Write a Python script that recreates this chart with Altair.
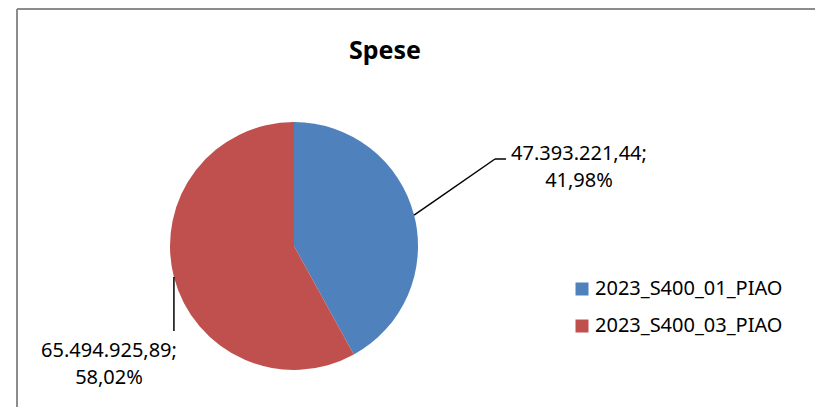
import math
import altair as alt
import pandas as pd

# ---- data ----
categories = ["2023_S400_01_PIAO", "2023_S400_03_PIAO"]
values = [47393221.44, 65494925.89]
colors = ["#4F81BD", "#C0504D"]
title_text = "Spese"

FONT = "Noto Sans"

# ---- layout (pixels, relative to the plot origin) ----
W, H = 798, 398
CX, CY, R = 277, 237, 124
# label anchors (centre x, first baseline y) and leader-line end points
label_pos = [(562, 151), (92, 348)]
leader_bend = [(478, 150), (157, 322)]
leader_end = [(489, 150), (157, 322)]


def it_num(v, dec=2):
    s = f"{v:,.{dec}f}"
    return s.replace(",", "X").replace(".", ",").replace("X", ".")


total = sum(values)
rows = []
seg_rows = []
cum = 0.0
for i, (c, v) in enumerate(zip(categories, values)):
    frac = v / total
    mid = (cum + frac / 2) * 2 * math.pi
    cum += frac
    sx = CX + R * math.sin(mid)
    sy = CY - R * math.cos(mid)
    lx, ly = label_pos[i]
    rows.append({
        "cat": c, "value": v,
        "label": f"{it_num(v)};\n{it_num(frac * 100)}%",
        "lx": lx, "ly": ly,
    })
    bx, by = leader_bend[i]
    ex, ey = leader_end[i]
    bx = sx if i == 1 else bx
    ex = sx if i == 1 else ex
    seg_rows.append({"x": sx, "y": sy, "x2": bx, "y2": by})
    if (ex, ey) != (bx, by):
        seg_rows.append({"x": bx, "y": by, "x2": ex, "y2": ey})

df = pd.DataFrame(rows)
seg = pd.DataFrame(seg_rows)
frame = pd.DataFrame({"x": [0, 0], "y": [0, 0], "x2": [W + 20, 0], "y2": [0, H + 20]})

color = alt.Color(
    "cat:N",
    scale=alt.Scale(domain=categories, range=colors),
    legend=alt.Legend(
        title=None, orient="none", legendX=555, legendY=270,
        symbolType="square", symbolSize=169, symbolStrokeWidth=0,
        labelFont=FONT, labelFontSize=20, labelColor="#000000",
        labelOffset=3, rowPadding=17, padding=0, labelLimit=400,
    ),
)

pie = alt.Chart(df).mark_arc(outerRadius=R).encode(
    theta=alt.Theta("value:Q", stack=True),
    color=color,
    order=alt.Order("cat:N"),
    x=alt.value(CX),
    y=alt.value(CY),
)

leaders = alt.Chart(seg).mark_rule(color="#000000", strokeWidth=1.5).encode(
    x=alt.X("x:Q", scale=None),
    y=alt.Y("y:Q", scale=None),
    x2="x2:Q",
    y2="y2:Q",
)

labels = alt.Chart(df).mark_text(
    font=FONT, fontSize=20, color="#000000", align="center",
    baseline="alphabetic", lineBreak="\n", lineHeight=27,
).encode(
    x=alt.X("lx:Q", scale=None),
    y=alt.Y("ly:Q", scale=None),
    text="label:N",
)

border = alt.Chart(frame).mark_rule(color="#8c8c8c", strokeWidth=2).encode(
    x=alt.X("x:Q", scale=None),
    y=alt.Y("y:Q", scale=None),
    x2="x2:Q",
    y2="y2:Q",
)

chart = alt.layer(border, pie, leaders, labels).properties(
    width=W,
    height=H,
    padding={"left": 9, "top": 1, "right": 0, "bottom": 0},
    autosize=alt.AutoSizeParams(type="none"),
    title=alt.TitleParams(
        title_text, font=FONT, fontSize=25, fontWeight="bold", color="#000000",
        anchor="middle", frame="group", orient="top", offset=0,
        baseline="alphabetic", dx=368 - W / 2, dy=76,
    ),
).configure_view(stroke=None).configure(background="#ffffff")

chart.save("out.html", embed_options={"renderer": "svg", "actions": False})
